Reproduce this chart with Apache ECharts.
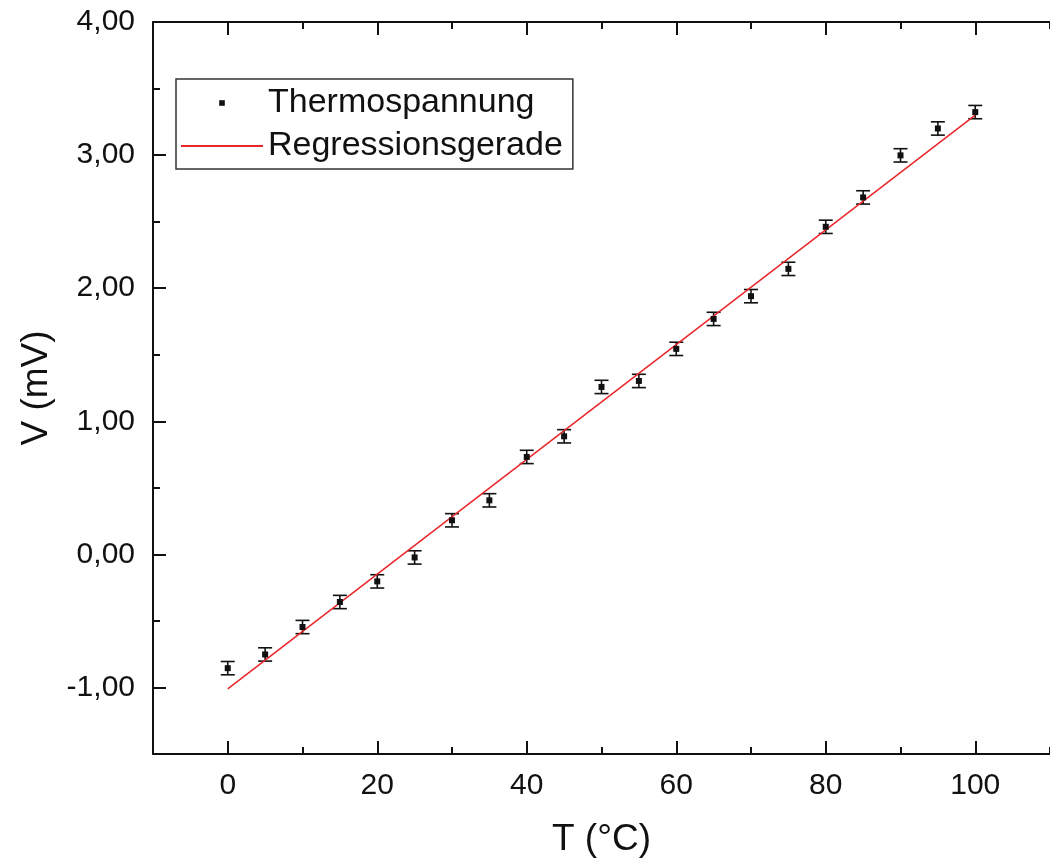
<!DOCTYPE html>
<html>
<head>
<meta charset="utf-8">
<script src="https://cdn.jsdelivr.net/npm/echarts@6/dist/echarts.min.js"></script>
<style>
  html, body { margin: 0; padding: 0; background: #fff; }
  #chart { width: 1050px; height: 864px; }
</style>
</head>
<body>
<div id="chart"></div>
<script>
const temps = [0, 5, 10, 15, 20, 25, 30, 35, 40, 45, 50, 55, 60, 65, 70, 75, 80, 85, 90, 95, 100];
const volts = [-0.855, -0.752, -0.546, -0.358, -0.203, -0.023, 0.256, 0.406, 0.732, 0.887,
  1.258, 1.303, 1.544, 1.769, 1.94, 2.145, 2.461, 2.682, 2.998, 3.2, 3.323];
const errors = [0.05, 0.05, 0.05, 0.05, 0.05, 0.05, 0.05, 0.05, 0.05, 0.05,
  0.05, 0.05, 0.05, 0.05, 0.05, 0.05, 0.05, 0.05, 0.05, 0.05, 0.05];
// Regressionsgerade, Endpunkte
const regT = [0, 100];
const regV = [-1.01, 3.30];
// Achsenbeschriftung
const xMajor = [0, 20, 40, 60, 80, 100];
const xMinor = [-10, 10, 30, 50, 70, 90, 110];
const yMajor = [-1, 0, 1, 2, 3, 4];
const yMinor = [-1.5, -0.5, 0.5, 1.5, 2.5, 3.5];

const font = "'Liberation Sans', Arial, sans-serif";
const black = '#111';

const points = temps.map((t, i) => [t, volts[i]]);
const bars = temps.map((t, i) => [t, volts[i] - errors[i], volts[i] + errors[i]]);
const regLine = regT.map((t, i) => [t, regV[i]]);

const chart = echarts.init(document.getElementById('chart'));

function xAxisDef(pos, ticks, len, main) {
  return {
    type: 'value', position: pos, min: -10, max: 110,
    axisLine: { show: main, onZero: false, lineStyle: { color: black, width: 2 } },
    axisTick: { show: true, inside: true, length: len, customValues: ticks, lineStyle: { color: black, width: 2 } },
    axisLabel: {
      show: main && pos === 'bottom', customValues: ticks, margin: 17,
      fontSize: 30, color: black, fontFamily: font
    },
    splitLine: { show: false },
    name: main && pos === 'bottom' ? 'T (°C)' : '',
    nameLocation: 'middle', nameGap: 67,
    nameTextStyle: { fontSize: 37, color: black, fontFamily: font }
  };
}

function yAxisDef(ticks, len, main) {
  return {
    type: 'value', position: 'left', min: -1.5, max: 4,
    axisLine: { show: main, onZero: false, lineStyle: { color: black, width: 2 } },
    axisTick: { show: true, inside: true, length: len, customValues: ticks, lineStyle: { color: black, width: 2 } },
    axisLabel: {
      show: main, customValues: ticks, margin: 18,
      fontSize: 30, color: black, fontFamily: font,
      formatter: v => v.toFixed(2).replace('.', ',')
    },
    splitLine: { show: false },
    name: main ? 'V (mV)' : '',
    nameLocation: 'middle', nameGap: 98,
    nameTextStyle: { fontSize: 37, color: black, fontFamily: font }
  };
}

chart.setOption({
  backgroundColor: '#fff',
  animation: false,
  grid: { left: 153, top: 22, right: -15, bottom: 110 },
  xAxis: [
    xAxisDef('bottom', xMajor, 13, true),
    xAxisDef('bottom', xMinor, 7, false),
    xAxisDef('top', xMajor, 13, true),
    xAxisDef('top', xMinor, 7, false)
  ],
  yAxis: [
    yAxisDef(yMajor, 13, true),
    yAxisDef(yMinor, 7, false)
  ],
  legend: {
    orient: 'vertical', left: 176, top: 79,
    padding: [4, 10, 3, 4],
    itemGap: 3, itemWidth: 82, itemHeight: 7,
    borderColor: '#333', borderWidth: 1.5,
    textStyle: { fontSize: 34, lineHeight: 40, color: black, fontFamily: font },
    data: [
      { name: 'Thermospannung' },
      { name: 'Regressionsgerade', itemStyle: { opacity: 0 } }
    ]
  },
  series: [
    {
      name: 'Fehler',
      type: 'custom',
      data: bars,
      z: 3,
      renderItem: (params, api) => {
        const t = api.value(0);
        const lo = api.coord([t, api.value(1)]);
        const hi = api.coord([t, api.value(2)]);
        const w = 7;
        const st = { stroke: black, lineWidth: 1.6 };
        return {
          type: 'group',
          children: [
            { type: 'line', shape: { x1: lo[0], y1: lo[1], x2: hi[0], y2: hi[1] }, style: st },
            { type: 'line', shape: { x1: lo[0] - w, y1: lo[1], x2: lo[0] + w, y2: lo[1] }, style: st },
            { type: 'line', shape: { x1: hi[0] - w, y1: hi[1], x2: hi[0] + w, y2: hi[1] }, style: st }
          ]
        };
      }
    },
    {
      name: 'Regressionsgerade',
      type: 'line',
      data: regLine,
      symbol: 'none',
      z: 4,
      lineStyle: { color: '#e8262a', width: 1.5 },
      itemStyle: { color: '#e8262a' }
    },
    {
      name: 'Thermospannung',
      type: 'line',
      data: points,
      symbol: 'rect',
      symbolSize: 6,
      showSymbol: true,
      z: 5,
      lineStyle: { opacity: 0 },
      itemStyle: { color: black }
    }
  ]
});
</script>
</body>
</html>
